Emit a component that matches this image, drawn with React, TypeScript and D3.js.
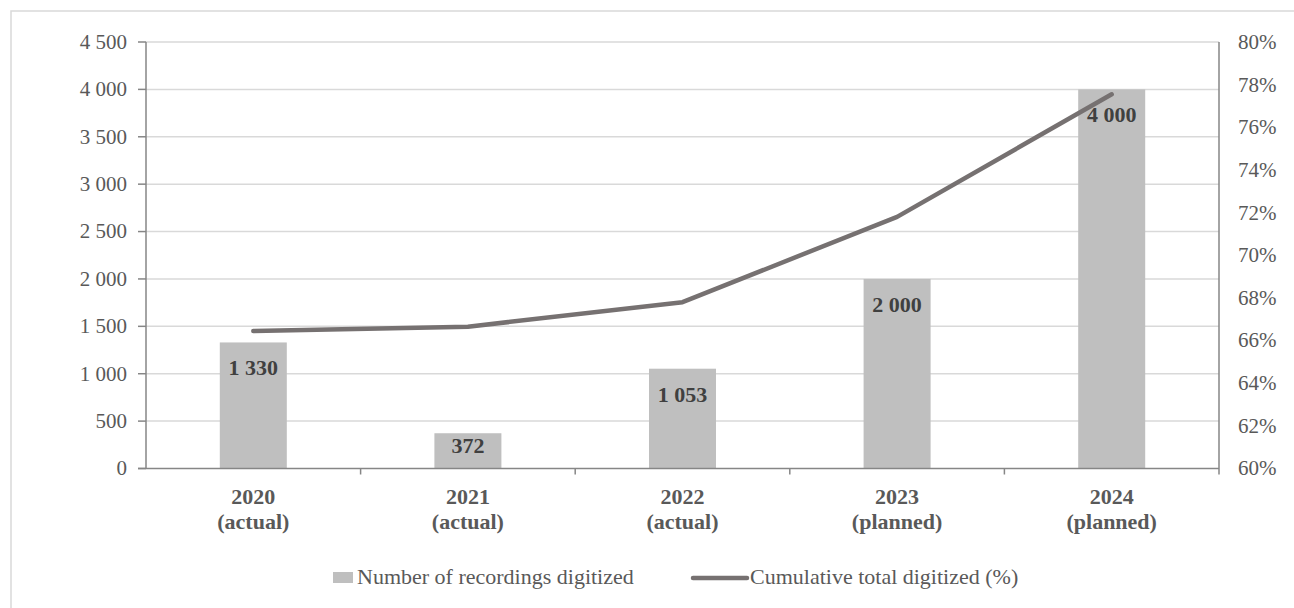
import React from "react";
import * as d3 from "d3";

const categories = ["2020", "2021", "2022", "2023", "2024"];
const subLabels = ["(actual)", "(actual)", "(actual)", "(planned)", "(planned)"];
const recordings = [1330, 372, 1053, 2000, 4000];
const cumulativePct = [66.45, 66.65, 67.8, 71.8, 77.55];
const leftTicks = [0, 500, 1000, 1500, 2000, 2500, 3000, 3500, 4000, 4500];
const rightTicks = [60, 62, 64, 66, 68, 70, 72, 74, 76, 78, 80];
const legendLabels = ["Number of recordings digitized", "Cumulative total digitized (%)"];

const W = 1294;
const H = 608;
const margin = { left: 146, right: 1219, top: 42, bottom: 468.5 };
const TS = { fontFamily: "Liberation Serif" };

const locale = d3.formatLocale({ decimal: ".", thousands: " ", grouping: [3], currency: ["", ""] });
const fmt = locale.format(",d");

export default function App() {
  const x = d3.scaleBand<string>().domain(categories).range([margin.left, margin.right]).paddingInner(0).paddingOuter(0);
  const yL = d3.scaleLinear().domain([0, 4500]).range([margin.bottom, margin.top]);
  const yR = d3.scaleLinear().domain([60, 80]).range([margin.bottom, margin.top]);
  const barW = 67;
  const line = d3
    .line<number>()
    .x((_, i) => (x(categories[i]) as number) + x.bandwidth() / 2)
    .y((d) => yR(d));

  const textCol = "#595959";
  const axisCol = "#868686";
  const gridCol = "#d9d9d9";
  const lineCol = "#767171";

  return (
    <svg width={W} height={H} style={{ position: "absolute", left: 0, top: 0 }}>
      <rect x={0} y={0} width={W} height={H} fill="#fff" />
      <rect x={11} y={11} width={W + 20} height={H + 20} fill="none" stroke="#d9d9d9" strokeWidth={1.5} />
      {leftTicks.slice(1).map((t) => (
        <line key={"g" + t} x1={margin.left} x2={margin.right} y1={yL(t)} y2={yL(t)} stroke={gridCol} strokeWidth={1.5} />
      ))}
      {recordings.map((v, i) => {
        const cx = (x(categories[i]) as number) + x.bandwidth() / 2;
        return <rect key={"b" + i} x={cx - barW / 2} y={yL(v)} width={barW} height={margin.bottom - yL(v)} fill="#bfbfbf" />;
      })}
      <line x1={margin.left} x2={margin.left} y1={margin.top} y2={margin.bottom} stroke={axisCol} strokeWidth={1.5} />
      <line x1={margin.right} x2={margin.right} y1={margin.top} y2={margin.bottom + 6} stroke={axisCol} strokeWidth={1.5} />
      <line x1={margin.left - 8} x2={margin.right} y1={margin.bottom} y2={margin.bottom} stroke={axisCol} strokeWidth={1.5} />
      {leftTicks.map((t) => (
        <g key={"lt" + t}>
          <line x1={margin.left - 8} x2={margin.left} y1={yL(t)} y2={yL(t)} stroke={axisCol} strokeWidth={1.5} />
          <text x={127} y={yL(t)} dy="0.33em" textAnchor="end" fontSize={21} fill={textCol} style={TS}>
            {fmt(t)}
          </text>
        </g>
      ))}
      {rightTicks.map((t) => (
        <text key={"rt" + t} x={1238} y={yR(t)} dy="0.33em" textAnchor="start" fontSize={21} fill={textCol} style={TS}>
          {t}%
        </text>
      ))}
      {categories.map((c, i) => {
        const bx = x(c) as number;
        return (
          <g key={"c" + c}>
            {i > 0 && <line x1={bx} x2={bx} y1={margin.bottom} y2={margin.bottom + 6} stroke={axisCol} strokeWidth={1.5} />}
            <text x={bx + x.bandwidth() / 2} y={503.5} textAnchor="middle" fontSize={22} fontWeight="bold" fill={textCol} style={TS}>
              {c}
            </text>
            <text x={bx + x.bandwidth() / 2} y={529} textAnchor="middle" fontSize={22} fontWeight="bold" fill={textCol} style={TS}>
              {subLabels[i]}
            </text>
          </g>
        );
      })}
      <path d={line(cumulativePct) || ""} fill="none" stroke={lineCol} strokeWidth={4.5} strokeLinecap="round" strokeLinejoin="round" />
      {recordings.map((v, i) => {
        const cx = (x(categories[i]) as number) + x.bandwidth() / 2;
        const y = Math.min(yL(v) + 33, margin.bottom - 16);
        return (
          <text key={"vl" + i} x={cx} y={y} textAnchor="middle" fontSize={22} fontWeight="bold" fill="#404040" style={TS}>
            {fmt(v)}
          </text>
        );
      })}
      <rect x={333} y={572} width={20} height={11} fill="#bfbfbf" />
      <text x={357} y={584} fontSize={22} fill={textCol} style={TS}>
        {legendLabels[0]}
      </text>
      <line x1={693} x2={747} y1={578} y2={578} stroke={lineCol} strokeWidth={4.5} strokeLinecap="round" />
      <text x={750} y={584} fontSize={22} fill={textCol} style={TS}>
        {legendLabels[1]}
      </text>
    </svg>
  );
}
